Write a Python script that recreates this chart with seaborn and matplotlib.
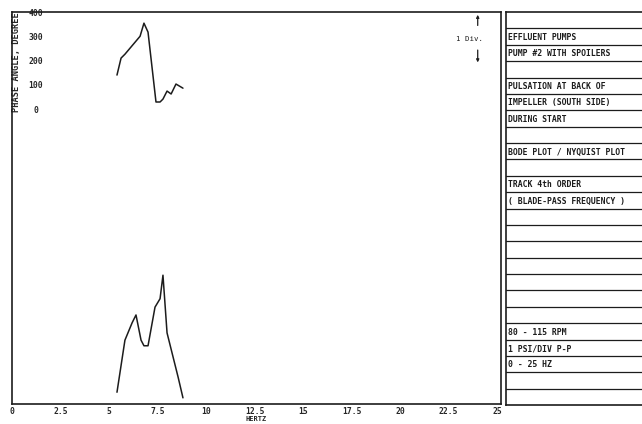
import seaborn as sns
import matplotlib.pyplot as plt
import pandas as pd

sns.set_style("white")
plt.rcParams['font.family'] = ['DejaVu Sans Mono', 'DejaVu Sans']
plt.rcParams['font.weight'] = 'bold'

# phase curve (degrees) vs frequency (Hz)
phase_freq = [5.41, 5.62, 5.82, 6.60, 6.80, 7.01, 7.42, 7.63, 7.78, 7.99, 8.20, 8.45, 8.81]
phase_deg = [140, 210, 226, 300, 354, 317, 29, 29, 41, 74, 62, 103, 86]

# amplitude curve (divisions, 1 PSI/div) vs frequency (Hz)
amp_freq = [5.41, 5.82, 6.19, 6.39, 6.65, 6.80, 7.01, 7.37, 7.63, 7.78, 7.99, 8.30, 8.56, 8.81]
amp_div = [0.21, 1.14, 1.45, 1.59, 1.14, 1.04, 1.04, 1.73, 1.88, 2.30, 1.27, 0.84, 0.48, 0.11]

x_ticks = [0, 2.5, 5, 7.5, 10, 12.5, 15, 17.5, 20, 22.5, 25]
x_ticklabels = ['0', '2.5', '5', '7.5', '10', '12.5', '15', '17.5', '20', '22.5', '25']
phase_ticks = [0, 100, 200, 300, 400]

info_rows = ['', 'EFFLUENT PUMPS', 'PUMP #2 WITH SPOILERS', '',
             'PULSATION AT BACK OF', 'IMPELLER (SOUTH SIDE)', 'DURING START', '',
             'BODE PLOT / NYQUIST PLOT', '', 'TRACK 4th ORDER',
             '( BLADE-PASS FREQUENCY )', '', '', '', '', '', '', '',
             '80 - 115 RPM', '1 PSI/DIV P-P', '0 - 25 HZ', '', '']

phase_df = pd.DataFrame({'hz': phase_freq, 'deg': phase_deg})
amp_df = pd.DataFrame({'hz': amp_freq, 'amp': amp_div})

ink = '#1c1c1c'
fig = plt.figure(figsize=(6.42, 4.24), dpi=100)

# main plot frame
ax = fig.add_axes([12 / 642, 20 / 424, 489 / 642, 392 / 424])
sns.lineplot(data=phase_df, x='hz', y='deg', ax=ax, color=ink, lw=1.1,
             estimator=None, sort=False)
ax.set_xlim(0, 25.2)
ax.set_ylim(-1216, 400)
ax.set_yticks(phase_ticks)
ax.set_yticklabels([str(t) for t in phase_ticks])
ax.tick_params(axis='y', length=0, pad=-17, labelsize=5.8)
for lab in ax.get_yticklabels():
    lab.set_ha('center')
ax.set_ylabel('PHASE ANGLE, DEGREE', fontsize=6.2, fontweight='bold', va='center')
ax.yaxis.set_label_coords(5 / 489, (404 - 62) / 392)

ax.set_xticks(x_ticks)
ax.set_xticklabels(x_ticklabels)
ax.tick_params(axis='x', length=0, pad=2, labelsize=5.8)
ax.set_xlabel('HERTZ', fontsize=5, fontweight='bold', labelpad=0)

for s in ax.spines.values():
    s.set_color(ink)
    s.set_linewidth(1.2)

# amplitude on its own scale, sharing the frequency axis
ax_amp = ax.twinx()
sns.lineplot(data=amp_df, x='hz', y='amp', ax=ax_amp, color=ink, lw=1.1,
             estimator=None, sort=False)
ax_amp.set_ylim(0, 7)
ax_amp.set_yticks([])
ax_amp.set_ylabel('')
for s in ax_amp.spines.values():
    s.set_visible(False)

# 1 division marker
arr = dict(arrowstyle='-|>', color=ink, lw=0.9, mutation_scale=4)
ax_amp.annotate('', xy=(24.0, 7.0), xytext=(24.0, 6.71), arrowprops=arr)
ax_amp.annotate('', xy=(24.0, 6.05), xytext=(24.0, 6.37), arrowprops=arr)
ax_amp.text(23.6, 6.52, '1 Div.', fontsize=5.3, fontweight='normal',
            ha='center', va='center', color=ink)

# information panel on the right
ax_info = fig.add_axes([506 / 642, 19 / 424, 150 / 642, 393 / 424])
n = len(info_rows)
ax_info.set_xlim(0, 1)
ax_info.set_ylim(n, 0)
for i in range(1, n):
    ax_info.axhline(i, color=ink, lw=0.9)
for i, txt in enumerate(info_rows):
    ax_info.text(0.012, i + 0.55, txt, fontsize=5.9, fontweight='bold',
                 ha='left', va='center', color=ink)
ax_info.set_xticks([])
ax_info.set_yticks([])
for side in ['left', 'top', 'bottom']:
    ax_info.spines[side].set_color(ink)
    ax_info.spines[side].set_linewidth(1.2)
ax_info.spines['right'].set_visible(False)

fig.savefig('out.png', dpi=100)
